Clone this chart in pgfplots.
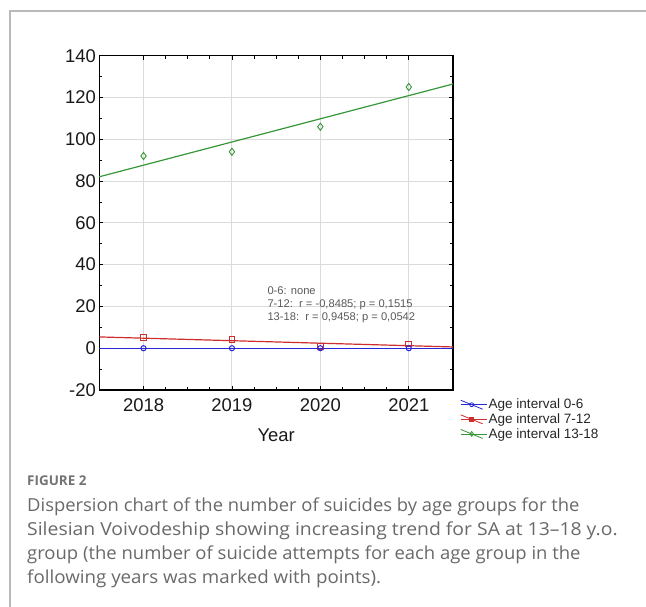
\documentclass[border=0pt]{standalone}
\usepackage{pgfplots}
\pgfplotsset{compat=1.18}
\usepackage{fontspec}
\setmainfont{Liberation Sans}
\newfontfamily\capfont{Open Sans}
\definecolor{serblue}{RGB}{40,40,215}
\definecolor{serred}{RGB}{205,45,45}
\definecolor{sergreen}{RGB}{55,150,55}
\definecolor{framegray}{RGB}{185,185,185}
\definecolor{captext}{RGB}{105,105,105}

\begin{document}
\begin{tikzpicture}
% page-sized box; points below are given in bp measured from the top-left corner
\begin{scope}[x=1bp,y=-1bp,shift={(0bp,607bp)}]
\useasboundingbox (0,0) rectangle (646,607);
\draw[color=framegray, line width=1.3bp] (10,607) -- (10,11) -- (646,11);
\end{scope}

\begin{axis}[
  at={(99.3bp,217bp)}, anchor=south west,
  width=353.7bp, height=334.3bp, scale only axis,
  xmin=2017.5, xmax=2021.5, ymin=-20, ymax=140,
  xtick={2018,2019,2020,2021}, xticklabels={2018,2019,2020,2021},
  ytick={-20,0,20,40,60,80,100,120,140},
  yticklabels={-20,0,20,40,60,80,100,120,140},
  minor x tick num=3, minor y tick num=1,
  tick align=inside,
  major tick length=4bp, minor tick length=3bp,
  grid=major, major grid style={color=black!14, line width=0.9bp},
  axis line style={line width=1.1bp},
  every tick/.style={black, line width=0.8bp},
  tick label style={font=\fontsize{18.5}{18.5}\selectfont, text=black!90},
  xticklabel style={yshift=-5bp},
  xlabel={Year}, xlabel style={font=\fontsize{18.5}{18.5}\selectfont, text=black!90, yshift=-10bp},
  legend image code/.code={%
    \path (0bp,0bp) -- (26bp,0bp);
    \draw[mark repeat=2,mark phase=2,#1] plot coordinates {(0bp,4.5bp) (11bp,0bp) (22bp,-4.5bp)};},
  legend style={at={(1.02,-0.022)}, anchor=north west, draw=none, fill=none,
    font=\fontsize{13.6}{13.6}\selectfont, row sep=0.3bp, inner sep=0pt,
    nodes={inner sep=1.5bp, text=black!85}},
  legend cell align=left,
  clip=false,
]
\addlegendimage{serblue, mark=o, mark size=2bp, line width=0.8bp}
\addlegendentry{Age interval 0-6}
\addlegendimage{serred, mark=square*, mark size=2bp, line width=0.8bp}
\addlegendentry{Age interval 7-12}
\addlegendimage{sergreen, mark=diamond, mark size=2.4bp, line width=0.8bp}
\addlegendentry{Age interval 13-18}

% fitted trend lines
\addplot[forget plot, sergreen, line width=1.2bp] coordinates {(2017.5,82.05) (2021.5,126.45)};
\addplot[forget plot, serred, line width=1.2bp] coordinates {(2017.5,5.4) (2021.5,0.6)};
\addplot[forget plot, serblue, line width=1.2bp] coordinates {(2017.5,0) (2021.5,0)};

% yearly counts
\addplot[forget plot, only marks, sergreen, mark=diamond, mark size=3.6bp, line width=0.9bp]
  coordinates {(2018,92) (2019,94) (2020,106) (2021,125)};
\addplot[forget plot, only marks, serred, mark=square, mark size=2.9bp, line width=1bp]
  coordinates {(2018,5) (2019,4) (2020,1) (2021,2)};
\addplot[forget plot, only marks, serblue, mark=o, mark size=2.6bp, line width=1bp]
  coordinates {(2018,0) (2019,0) (2020,0) (2021,0)};

\begin{scope}[every node/.style={anchor=west, inner sep=0pt, text=black!65,
    font=\fontsize{11.2}{11.2}\selectfont}]
\node at (axis cs:2019.40,27.4) {0-6: none};
\node at (axis cs:2019.40,20.7) {7-12:\ \ r = -0,8485; p = 0,1515};
\node at (axis cs:2019.40,14.6) {13-18:\ \ r = 0,9458; p = 0,0542};
\end{scope}
\end{axis}

\begin{scope}[x=1bp,y=-1bp,shift={(0bp,607bp)},
  every node/.style={anchor=base west, inner sep=0pt, text=captext}]
\node[font=\capfont\bfseries\fontsize{13.5}{13.5}\selectfont, text=black!55] at (27,486) {FIGURE 2};
\node[font=\capfont\fontsize{18}{18}\selectfont, xscale=1.026] at (27,512) {Dispersion chart of the number of suicides by age groups for the};
\node[font=\capfont\fontsize{18}{18}\selectfont, xscale=1.08] at (27,536) {Silesian Voivodeship showing increasing trend for SA at 13–18 y.o.};
\node[font=\capfont\fontsize{18}{18}\selectfont, xscale=1.03] at (27,560) {group (the number of suicide attempts for each age group in the};
\node[font=\capfont\fontsize{18}{18}\selectfont, xscale=1.045] at (27,583.5) {following years was marked with points).};
\end{scope}
\end{tikzpicture}
\end{document}
